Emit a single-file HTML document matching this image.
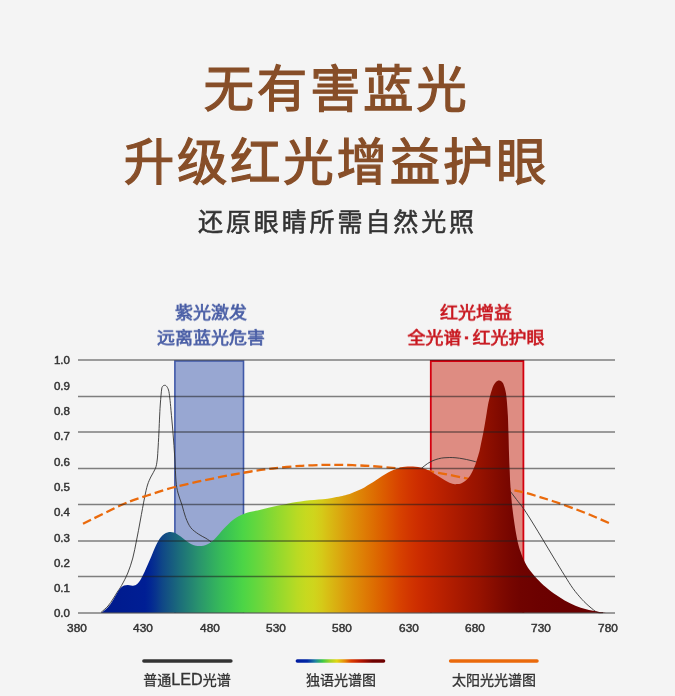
<!DOCTYPE html>
<html lang="zh-CN">
<head>
<meta charset="utf-8">
<title>无有害蓝光 升级红光增益护眼</title>
<style>
html,body{margin:0;padding:0;}
body{width:675px;height:696px;overflow:hidden;background:#f4f4f4;position:relative;
  font-family:"Liberation Sans","Noto Sans CJK SC",sans-serif;}
.abs{position:absolute;white-space:nowrap;will-change:transform;}
.title{left:-1.2px;width:675px;text-align:center;color:#874e28;font-size:50.5px;line-height:60px;
  font-family:"Liberation Sans","Noto Sans CJK SC",sans-serif;font-weight:400;
  -webkit-text-stroke:1.25px #874e28;letter-spacing:2.7px;}
.sub{left:0;width:675px;text-align:center;color:#333;font-size:25px;line-height:30px;letter-spacing:2.9px;-webkit-text-stroke:0.55px #333;
  font-family:"Liberation Sans","Noto Sans CJK SC",sans-serif;}
.note{text-align:center;font-size:18px;line-height:26.6px;width:200px;transform:scaleY(0.93);transform-origin:50% 0;
  font-family:"Liberation Sans","Noto Sans CJK SC",sans-serif;font-weight:400;}
.dot{display:inline-block;width:11px;text-align:center;font-family:"Liberation Sans",sans-serif;font-weight:700;}
.note.blue{color:#485da5;-webkit-text-stroke:0.7px #485da5;}
.note.red{color:#c8161e;-webkit-text-stroke:0.7px #c8161e;}
.ylab{left:39.8px;width:30px;text-align:right;font-size:11px;line-height:12px;color:#333;-webkit-text-stroke:0.45px #333;transform:scaleX(1.05);transform-origin:100% 50%;}
.xlab{width:40px;text-align:center;font-size:11.2px;line-height:12px;color:#333;top:622.1px;-webkit-text-stroke:0.45px #333;transform:scaleX(1.06);transform-origin:50% 50%;}
.leg{font-size:14px;line-height:18px;color:#333;text-align:center;width:120px;top:669.5px;-webkit-text-stroke:0.3px #333;
  font-family:"Liberation Sans","Noto Sans CJK SC",sans-serif;}
.leg .en{font-family:"Liberation Sans",sans-serif;font-size:16.2px;letter-spacing:0px;}
svg{position:absolute;left:0;top:0;}
</style>
</head>
<body>
<div class="abs title" style="top:59.8px;">无有害蓝光</div>
<div class="abs title" style="top:132.5px;">升级红光增益护眼</div>
<div class="abs sub" style="top:207.05px;">还原眼睛所需自然光照</div>

<div class="abs note blue" style="left:111px;top:300.7px;">紫光激发<br>远离蓝光危害</div>
<div class="abs note red" style="left:376.4px;top:300.7px;">红光增益<br>全光谱<span class="dot">·</span>红光护眼</div>

<svg width="675" height="696" viewBox="0 0 675 696">
  <defs>
    <linearGradient id="spec" gradientUnits="userSpaceOnUse" x1="100" y1="0" x2="615" y2="0">
      <stop offset="0.0000" stop-color="#001a8c"/>
      <stop offset="0.0874" stop-color="#001e94"/>
      <stop offset="0.0971" stop-color="#022693"/>
      <stop offset="0.1087" stop-color="#08348e"/>
      <stop offset="0.1204" stop-color="#0f4687"/>
      <stop offset="0.1379" stop-color="#165a80"/>
      <stop offset="0.1553" stop-color="#1c6e7a"/>
      <stop offset="0.1748" stop-color="#238273"/>
      <stop offset="0.1942" stop-color="#2a966c"/>
      <stop offset="0.2155" stop-color="#30aa62"/>
      <stop offset="0.2350" stop-color="#37bb59"/>
      <stop offset="0.2544" stop-color="#3ec850"/>
      <stop offset="0.2777" stop-color="#4cd546"/>
      <stop offset="0.2951" stop-color="#5cd740"/>
      <stop offset="0.3107" stop-color="#6cd73c"/>
      <stop offset="0.3301" stop-color="#81d834"/>
      <stop offset="0.3495" stop-color="#96d92d"/>
      <stop offset="0.3670" stop-color="#a8da28"/>
      <stop offset="0.3825" stop-color="#b9da23"/>
      <stop offset="0.4000" stop-color="#c7d91f"/>
      <stop offset="0.4155" stop-color="#cfd51c"/>
      <stop offset="0.4311" stop-color="#d5ca18"/>
      <stop offset="0.4447" stop-color="#d8bc14"/>
      <stop offset="0.4621" stop-color="#daab10"/>
      <stop offset="0.4777" stop-color="#dc9b0c"/>
      <stop offset="0.4951" stop-color="#dd8c08"/>
      <stop offset="0.5126" stop-color="#de7d05"/>
      <stop offset="0.5301" stop-color="#dd6e02"/>
      <stop offset="0.5476" stop-color="#dc5f00"/>
      <stop offset="0.5650" stop-color="#da5000"/>
      <stop offset="0.5825" stop-color="#d74100"/>
      <stop offset="0.6000" stop-color="#d23600"/>
      <stop offset="0.6175" stop-color="#cd2d00"/>
      <stop offset="0.6350" stop-color="#c62700"/>
      <stop offset="0.6524" stop-color="#be2300"/>
      <stop offset="0.6757" stop-color="#b31e00"/>
      <stop offset="0.6990" stop-color="#a81900"/>
      <stop offset="0.7184" stop-color="#9f1500"/>
      <stop offset="0.7379" stop-color="#961200"/>
      <stop offset="0.7573" stop-color="#8b0e00"/>
      <stop offset="0.7767" stop-color="#800a00"/>
      <stop offset="0.7961" stop-color="#770600"/>
      <stop offset="0.8155" stop-color="#700300"/>
      <stop offset="0.8544" stop-color="#6c0100"/>
      <stop offset="0.8932" stop-color="#6a0000"/>
      <stop offset="1.0000" stop-color="#680000"/>
    </linearGradient>
    <linearGradient id="leg2" x1="0" y1="0" x2="1" y2="0">
      <stop offset="0" stop-color="#001aa0"/>
      <stop offset="0.13" stop-color="#0028a5"/>
      <stop offset="0.22" stop-color="#1e82a0"/>
      <stop offset="0.30" stop-color="#3cc846"/>
      <stop offset="0.38" stop-color="#a0d228"/>
      <stop offset="0.46" stop-color="#e1d714"/>
      <stop offset="0.55" stop-color="#e68a08"/>
      <stop offset="0.62" stop-color="#dc3c00"/>
      <stop offset="0.73" stop-color="#b41400"/>
      <stop offset="0.86" stop-color="#6e0000"/>
      <stop offset="1" stop-color="#6e0000"/>
    </linearGradient>
  </defs>

  <!-- highlight boxes -->
  <rect x="174.9" y="361" width="68.6" height="251.5" fill="#98a7d2"/>
  <path d="M174.9,612.5 V361 H243.5 V612.5" fill="none" stroke="#4059a8" stroke-width="1.6"/>
  <rect x="430.8" y="361" width="92.6" height="251.5" fill="#de8c82"/>
  <path d="M430.8,612.5 V361 H523.4 V612.5" fill="none" stroke="#d4000f" stroke-width="1.8"/>

  <!-- ordinary LED curve -->
  <path id="led1" fill="none" stroke="#333" stroke-width="0.9" d="M101.0,612.5 C102.2,611.4 106.0,608.2 108.0,606.0 C110.0,603.8 111.5,601.2 113.0,599.0 C114.5,596.8 115.6,594.7 117.0,592.5 C118.4,590.3 119.7,588.9 121.5,585.6 C123.3,582.4 125.9,577.6 127.8,573.0 C129.7,568.4 131.3,563.5 132.8,558.0 C134.3,552.5 135.3,546.3 136.6,540.0 C137.9,533.7 139.1,527.0 140.4,520.0 C141.7,513.0 143.3,503.8 144.5,498.0 C145.7,492.2 146.4,488.5 147.5,485.0 C148.6,481.5 149.5,479.8 150.8,477.0 C152.1,474.2 154.3,471.3 155.4,468.5 C156.5,465.7 156.8,462.9 157.2,460.0 C157.6,457.1 157.6,455.3 157.9,450.8 C158.2,446.3 158.6,439.0 158.9,433.0 C159.2,427.0 159.4,420.0 159.7,415.0 C159.9,410.0 160.1,407.3 160.4,403.0 C160.7,398.7 161.3,391.8 161.7,389.0 C162.1,386.2 162.5,386.6 163.0,386.0 C163.5,385.4 164.1,385.3 164.7,385.3 C165.3,385.3 165.9,385.4 166.5,386.2 C167.1,387.0 167.9,388.0 168.5,390.0 C169.1,392.0 169.4,394.6 169.8,398.0 C170.2,401.4 170.5,404.7 171.0,410.5 C171.5,416.3 172.4,425.1 173.0,433.0 C173.6,440.9 174.3,450.0 174.8,458.0 C175.3,466.0 175.5,475.2 176.0,481.0 C176.5,486.8 177.0,489.0 178.0,493.0 C179.0,497.0 180.7,500.9 182.0,505.0 C183.3,509.1 184.2,513.8 185.7,517.6 C187.2,521.4 188.7,525.0 190.8,527.7 C192.9,530.4 195.8,532.2 198.3,534.0 C200.8,535.8 203.6,536.9 205.9,538.3 C208.2,539.7 211.0,541.8 212.0,542.5"/>
  <path id="led2" fill="none" stroke="#333" stroke-width="0.9" d="M414.0,474.0 C415.3,473.0 419.6,469.7 421.8,468.0 C424.1,466.3 425.6,464.8 427.5,463.6 C429.4,462.4 431.1,461.4 433.0,460.6 C434.9,459.8 436.9,459.2 438.7,458.7 C440.5,458.2 442.1,458.0 444.0,457.8 C445.9,457.6 447.8,457.5 449.8,457.5 C451.8,457.5 453.8,457.6 456.0,457.8 C458.2,458.0 460.7,458.4 463.0,458.8 C465.3,459.2 467.9,459.8 470.0,460.3 C472.1,460.8 473.9,461.2 475.7,461.8 C477.5,462.4 479.3,463.0 481.0,464.0 C482.7,465.0 485.2,467.3 486.0,468.0"/>
  <path id="led3" fill="none" stroke="#333" stroke-width="0.9" d="M503.0,482.0 C504.1,483.4 507.4,487.6 509.7,490.5 C511.9,493.4 514.2,496.4 516.5,499.5 C518.8,502.6 520.9,504.7 523.7,508.8 C526.5,512.9 530.2,518.8 533.4,524.0 C536.6,529.2 539.7,534.3 543.1,540.0 C546.5,545.7 550.3,552.1 553.9,558.0 C557.5,563.9 561.5,570.5 564.7,575.6 C567.9,580.7 570.1,584.5 573.0,588.5 C575.9,592.5 579.1,596.2 581.9,599.3 C584.7,602.4 587.5,604.9 590.0,607.0 C592.5,609.1 594.8,611.2 597.0,612.2 C599.2,613.2 602.0,612.6 603.0,612.7"/>

  <!-- sunlight dashed curve -->
  <path id="sun" fill="none" stroke="#ea6a0c" stroke-width="2.3" stroke-dasharray="9 4.03" d="M83.0,523.8 C89.7,520.5 112.3,509.0 123.0,504.3 C133.7,499.6 138.7,498.4 147.4,495.5 C156.1,492.6 163.6,489.9 175.0,487.0 C186.4,484.1 203.1,480.5 215.8,477.9 C228.5,475.3 241.5,473.1 251.0,471.5 C260.5,469.9 264.8,469.4 273.0,468.5 C281.2,467.6 291.7,466.4 300.0,465.8 C308.3,465.2 316.7,465.1 323.0,464.9 C329.3,464.7 333.1,464.8 338.0,464.8 C342.9,464.9 347.4,465.0 352.7,465.2 C358.0,465.4 362.6,465.5 370.0,466.0 C377.4,466.5 388.7,467.5 397.0,468.2 C405.3,468.9 413.1,469.6 420.0,470.4 C426.9,471.2 430.7,471.5 438.4,472.8 C446.1,474.1 457.8,476.6 466.4,478.4 C475.0,480.2 482.4,481.9 490.0,483.8 C497.6,485.7 506.1,488.3 512.0,489.8 C517.9,491.3 520.6,491.6 525.3,492.8 C530.0,494.0 535.0,495.6 540.0,497.1 C545.0,498.6 550.1,500.1 555.6,502.0 C561.1,503.9 567.1,506.0 573.0,508.2 C578.9,510.4 585.1,512.8 591.1,515.3 C597.1,517.8 605.9,521.7 608.9,523.0"/>

  <!-- spectrum -->
  <path id="specpath" fill="url(#spec)" d="M101.3,612.7 C102.0,612.2 104.0,610.9 105.5,609.5 C107.0,608.1 108.8,606.3 110.2,604.5 C111.6,602.7 112.8,600.6 114.0,598.5 C115.2,596.4 116.6,593.8 117.7,592.0 C118.8,590.2 119.8,588.9 120.8,587.8 C121.8,586.7 122.8,586.1 124.0,585.6 C125.2,585.1 126.6,584.9 127.8,584.9 C129.0,584.9 130.0,585.3 131.0,585.4 C132.0,585.5 133.1,585.7 134.0,585.6 C134.9,585.5 135.7,585.2 136.5,584.6 C137.3,584.0 138.2,583.0 139.0,581.9 C139.8,580.8 140.7,579.4 141.5,577.9 C142.3,576.4 142.9,575.2 144.0,573.0 C145.1,570.8 146.5,567.4 147.8,564.5 C149.1,561.6 150.5,558.1 151.7,555.4 C152.9,552.6 153.8,550.3 154.8,548.0 C155.9,545.7 157.0,543.4 158.0,541.6 C159.0,539.8 159.9,538.3 161.0,537.0 C162.1,535.7 163.2,534.8 164.3,534.0 C165.4,533.2 166.4,532.7 167.5,532.4 C168.6,532.1 169.5,532.0 170.6,532.0 C171.7,532.0 172.8,532.3 173.8,532.6 C174.9,532.9 175.8,533.3 176.9,534.0 C178.1,534.7 179.4,535.7 180.7,536.6 C182.0,537.5 183.2,538.5 184.5,539.5 C185.8,540.5 186.9,541.4 188.2,542.3 C189.4,543.1 190.7,544.0 192.0,544.6 C193.3,545.2 194.5,545.5 195.8,545.8 C197.1,546.0 198.3,546.1 199.6,546.1 C200.8,546.1 202.1,546.0 203.3,545.7 C204.5,545.5 205.7,545.2 207.0,544.6 C208.3,544.0 209.6,543.2 210.9,542.3 C212.2,541.4 213.3,540.4 214.7,539.0 C216.0,537.6 217.5,535.9 219.0,534.2 C220.5,532.5 221.9,530.7 223.5,529.0 C225.1,527.3 226.8,525.6 228.5,524.0 C230.2,522.4 231.9,520.9 233.6,519.6 C235.3,518.3 236.9,517.2 238.6,516.3 C240.3,515.3 242.0,514.6 243.7,513.9 C245.4,513.2 247.0,512.7 248.7,512.3 C250.4,511.9 251.6,511.8 253.7,511.3 C255.8,510.9 258.9,510.2 261.5,509.6 C264.1,509.0 266.8,508.3 269.6,507.6 C272.4,506.9 275.5,506.1 278.5,505.5 C281.5,504.9 284.4,504.3 287.4,503.7 C290.4,503.1 293.3,502.6 296.3,502.1 C299.3,501.6 302.2,501.1 305.2,500.7 C308.1,500.3 311.0,500.1 314.0,499.9 C317.0,499.7 320.0,499.6 323.0,499.3 C326.0,499.0 329.1,498.5 332.0,498.0 C334.9,497.5 338.2,496.8 340.7,496.3 C343.1,495.8 344.7,495.4 346.7,494.8 C348.7,494.2 350.6,493.5 352.6,492.7 C354.6,491.9 356.5,491.1 358.5,490.2 C360.5,489.3 362.4,488.5 364.4,487.4 C366.4,486.3 368.3,485.0 370.3,483.8 C372.3,482.6 374.3,481.3 376.3,480.0 C378.3,478.7 380.2,477.3 382.2,476.1 C384.2,474.9 386.1,473.7 388.1,472.6 C390.1,471.6 392.0,470.6 394.0,469.8 C396.0,469.0 398.2,468.2 400.0,467.7 C401.8,467.2 403.3,467.0 405.0,466.8 C406.7,466.6 408.6,466.5 410.4,466.5 C412.1,466.5 413.8,466.6 415.5,466.8 C417.2,467.0 418.9,467.2 420.7,467.6 C422.4,468.0 424.2,468.6 426.0,469.3 C427.8,470.0 429.4,470.8 431.2,471.8 C433.0,472.8 434.9,474.1 436.8,475.2 C438.7,476.3 440.5,477.6 442.4,478.7 C444.3,479.8 446.1,481.0 448.0,481.9 C449.9,482.8 452.1,483.5 453.6,483.9 C455.2,484.3 456.1,484.2 457.3,484.1 C458.5,484.0 459.8,483.9 461.0,483.4 C462.2,482.9 463.5,482.2 464.8,481.3 C466.1,480.4 467.4,479.3 468.6,477.8 C469.8,476.3 470.9,474.4 472.0,472.2 C473.1,470.0 474.4,467.1 475.3,464.7 C476.2,462.2 476.9,460.0 477.6,457.5 C478.4,455.0 479.1,452.8 479.8,449.7 C480.5,446.6 481.2,442.7 482.0,439.0 C482.8,435.3 483.6,431.1 484.3,427.3 C485.0,423.5 485.6,419.7 486.2,416.0 C486.8,412.3 487.4,408.1 488.0,404.9 C488.6,401.6 489.3,399.0 489.9,396.5 C490.5,394.0 491.2,391.8 491.8,389.9 C492.4,388.0 493.0,386.6 493.6,385.3 C494.2,384.1 494.9,383.1 495.5,382.4 C496.1,381.7 496.8,381.2 497.4,380.9 C498.0,380.6 498.7,380.5 499.3,380.6 C499.9,380.7 500.6,380.9 501.2,381.3 C501.8,381.7 502.4,382.2 503.0,383.2 C503.6,384.2 504.1,385.8 504.6,387.5 C505.1,389.2 505.6,391.0 506.0,393.6 C506.4,396.2 506.7,399.2 507.0,403.0 C507.3,406.8 507.6,410.9 507.9,416.1 C508.1,421.3 508.3,427.8 508.5,434.0 C508.7,440.2 508.8,447.3 509.0,453.5 C509.2,459.7 509.4,465.4 509.7,471.0 C509.9,476.6 510.1,481.8 510.5,487.1 C510.9,492.4 511.3,498.0 511.8,503.0 C512.3,508.0 512.9,512.3 513.5,517.0 C514.1,521.7 514.9,526.6 515.6,531.0 C516.4,535.4 517.2,539.8 518.0,543.2 C518.8,546.6 519.6,548.9 520.5,551.5 C521.4,554.1 522.2,556.6 523.2,558.8 C524.2,561.0 525.1,562.8 526.2,564.8 C527.3,566.8 528.6,568.8 530.0,570.6 C531.4,572.5 533.0,574.2 534.5,575.9 C536.0,577.6 537.5,579.2 539.0,580.8 C540.5,582.3 541.0,583.1 543.5,585.2 C546.0,587.3 550.4,591.1 553.9,593.6 C557.4,596.1 561.1,598.4 564.7,600.4 C568.3,602.4 571.8,604.2 575.4,605.7 C579.0,607.2 582.6,608.3 586.2,609.3 C589.8,610.3 593.7,611.0 597.0,611.6 C600.3,612.2 604.5,612.6 606.0,612.8 Z"/>

  <!-- grid lines -->
  <g stroke="#1e1e1e" stroke-opacity="0.55" stroke-width="1.5">
    <line x1="78" x2="615" y1="360.0" y2="360.0"/>
    <line x1="78" x2="615" y1="396.5" y2="396.5"/>
    <line x1="78" x2="615" y1="432.0" y2="432.0"/>
    <line x1="78" x2="615" y1="468.5" y2="468.5"/>
    <line x1="78" x2="615" y1="504.5" y2="504.5"/>
    <line x1="78" x2="615" y1="541.0" y2="541.0"/>
    <line x1="78" x2="615" y1="576.5" y2="576.5"/>
    <line x1="78" x2="615" y1="613.0" y2="613.0"/>
  </g>

  <!-- legend lines -->
  <line x1="143.9" x2="230.9" y1="661" y2="661" stroke="#333" stroke-width="3.5" stroke-linecap="round"/>
  <rect x="295.6" y="659.2" width="89.7" height="3.5" rx="1.75" fill="url(#leg2)"/>
  <line x1="450.6" x2="537" y1="661" y2="661" stroke="#ea6a0c" stroke-width="3.5" stroke-linecap="round"/>
</svg>

<div class="abs ylab" style="top:354px;">1.0</div>
<div class="abs ylab" style="top:380px;">0.9</div>
<div class="abs ylab" style="top:405px;">0.8</div>
<div class="abs ylab" style="top:430px;">0.7</div>
<div class="abs ylab" style="top:455.5px;">0.6</div>
<div class="abs ylab" style="top:480.5px;">0.5</div>
<div class="abs ylab" style="top:506px;">0.4</div>
<div class="abs ylab" style="top:531.5px;">0.3</div>
<div class="abs ylab" style="top:556.5px;">0.2</div>
<div class="abs ylab" style="top:581.5px;">0.1</div>
<div class="abs ylab" style="top:606.5px;">0.0</div>

<div class="abs xlab" style="left:56.9px;">380</div>
<div class="abs xlab" style="left:123.3px;">430</div>
<div class="abs xlab" style="left:189.6px;">480</div>
<div class="abs xlab" style="left:256px;">530</div>
<div class="abs xlab" style="left:322.3px;">580</div>
<div class="abs xlab" style="left:388.7px;">630</div>
<div class="abs xlab" style="left:455px;">680</div>
<div class="abs xlab" style="left:521.4px;">730</div>
<div class="abs xlab" style="left:587.7px;">780</div>

<div class="abs leg" style="left:127px;top:670px;">普通<span class="en">LED</span>光谱</div>
<div class="abs leg" style="left:281px;top:670.75px;">独语光谱图</div>
<div class="abs leg" style="left:434px;top:670.75px;">太阳光光谱图</div>
</body>
</html>
